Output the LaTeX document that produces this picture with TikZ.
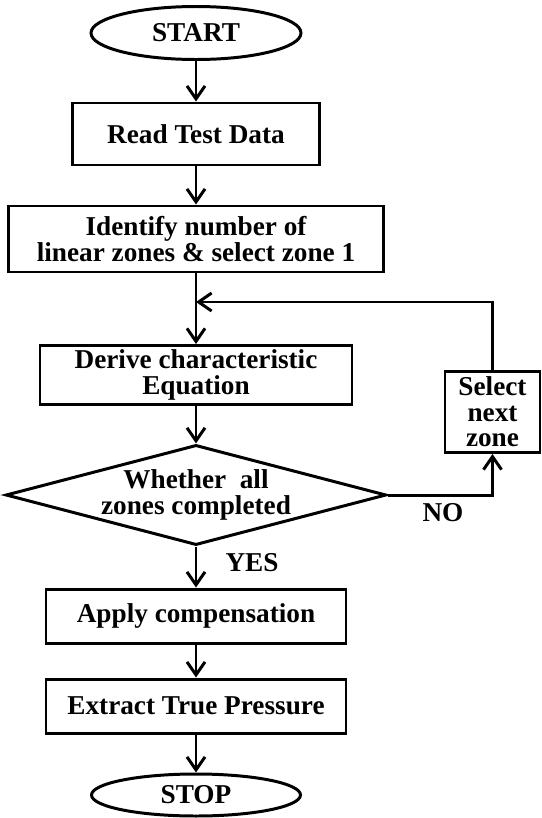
\documentclass[tikz,border=0pt]{standalone}
\usepackage{fontspec}
\setmainfont{Liberation Serif}
\usetikzlibrary{shapes.geometric,arrows.meta}

\begin{document}
\begin{tikzpicture}[>={Straight Barb[length=2.6mm,width=3.6mm]},line width=1.7pt,
 every node/.style={font=\bfseries\fontsize{15.5}{14.5}\selectfont},
 blk/.style={draw,rectangle,inner sep=0pt,align=center},
 term/.style={draw,ellipse,inner sep=0pt},
 cond/.style={draw,diamond,aspect=3.8,inner sep=0pt,align=center}]
 \useasboundingbox (0,0) rectangle (10.82,-16.36);

 \node[term,minimum width=4.2cm,minimum height=1.06cm] (start) at (3.92,-0.66) {START};
 \node[blk,minimum width=4.94cm,minimum height=1.24cm] (read) at (3.92,-2.68) {Read Test Data};
 \node[blk,minimum width=7.5cm,minimum height=1.32cm] (ident) at (3.92,-4.78) {Identify number of\\linear zones \& select zone 1};
 \coordinate (loop) at (3.92,-6.04);
 \node[blk,minimum width=6.24cm,minimum height=1.18cm] (derive) at (3.92,-7.5) {Derive characteristic\\Equation};
 \node[cond] (check) at (3.92,-9.9) {Whether\ \ all\\zones completed};
 \node[blk,minimum width=1.9cm,minimum height=1.62cm] (next) at (9.85,-8.24) {Select\\next\\zone};
 \node[blk,minimum width=6cm,minimum height=1.08cm] (comp) at (3.92,-12.32) {Apply compensation};
 \node[blk,minimum width=6cm,minimum height=1.08cm] (extract) at (3.92,-14.12) {Extract True Pressure};
 \node[term,minimum width=4.18cm,minimum height=0.84cm] (stop) at (3.92,-15.9) {STOP};

 \draw[->](start)--(read);
 \draw[->](read)--(ident);
 \draw[->](ident)--(derive);
 \draw[->](derive)--(check);
 \draw[->](check.east)-|(next.south);
 \draw[->](next.north)|-(loop);
 \draw[->](check)--(comp);
 \draw[->](comp)--(extract);
 \draw[->](extract)--(stop);

 \node (no) at (8.86,-10.26) {NO};
 \node (yes) at (5.04,-11.26) {YES};
\end{tikzpicture}
\end{document}
